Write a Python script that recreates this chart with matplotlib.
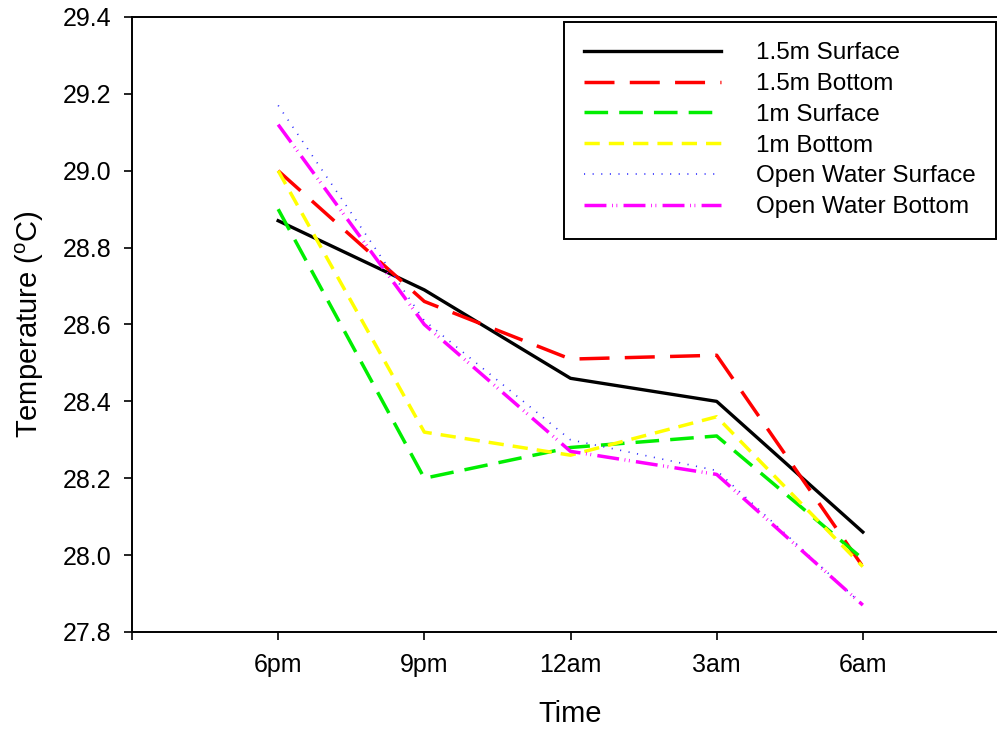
import matplotlib
matplotlib.use("Agg")
import matplotlib.pyplot as plt

plt.rcParams['font.family'] = ['Liberation Sans', 'DejaVu Sans']
plt.rcParams['mathtext.fontset'] = 'custom'
plt.rcParams['mathtext.rm'] = 'Liberation Sans'
plt.rcParams['mathtext.it'] = 'Liberation Sans'
plt.rcParams['lines.scale_dashes'] = False

times = ['6pm', '9pm', '12am', '3am', '6am']
series_names = ['1.5m Surface', '1.5m Bottom', '1m Surface', '1m Bottom',
                'Open Water Surface', 'Open Water Bottom']
s15_surface = [28.87, 28.69, 28.46, 28.40, 28.06]
s15_bottom = [29.00, 28.66, 28.51, 28.52, 27.97]
s1_surface = [28.90, 28.20, 28.28, 28.31, 27.99]
s1_bottom = [29.00, 28.32, 28.26, 28.36, 27.97]
ow_surface = [29.17, 28.61, 28.30, 28.22, 27.87]
ow_bottom = [29.12, 28.60, 28.27, 28.21, 27.87]

data = [s15_surface, s15_bottom, s1_surface, s1_bottom, ow_surface, ow_bottom]
colors = ['#000000', '#FF0000', '#00EE00', '#FFFF00', '#3030FF', '#FF00FF']
styles = [
    dict(linestyle='-', lw=2.4),
    dict(dashes=(21.6, 11.0), lw=2.5),
    dict(dashes=(17.0, 8.0), lw=2.5),
    dict(dashes=(11.0, 6.5), lw=2.5),
    dict(dashes=(0.8, 5.4), lw=1.2),
    dict(dashes=(15.8, 4.0, 0.6, 2.6, 0.6, 4.5), lw=2.5),
]

fig = plt.figure(figsize=(9.97, 7.31), dpi=100)
ax = fig.add_axes([132/997, 1-632/731, (1009-132)/997, (632-17)/731])

x = list(range(len(times)))
for vals, name, c, st in zip(data, series_names, colors, styles):
    ax.plot(x, vals, color=c, label=name, **st)

ax.set_xlim(-1, 5)
ax.set_ylim(27.8, 29.4)
ax.set_xticks(range(-1, 6))
ax.set_xticklabels([''] + times + [''])
ax.set_yticks([27.8, 28.0, 28.2, 28.4, 28.6, 28.8, 29.0, 29.2, 29.4])
ax.set_yticklabels(['27.8', '28.0', '28.2', '28.4', '28.6', '28.8', '29.0', '29.2', '29.4'])
ax.tick_params(direction='out', length=6, width=1.2, labelsize=18, pad=9)
for sp in ax.spines.values():
    sp.set_linewidth(1.4)

ax.set_xlabel('Time', fontsize=21, labelpad=17)
ax.set_ylabel(r'Temperature ($^\mathrm{o}$C)', fontsize=21, labelpad=12)

leg = fig.legend(loc='upper right', bbox_to_anchor=(996/997, 1-21.7/731),
                 fontsize=17.5, handlelength=5.6, handletextpad=1.44,
                 labelspacing=0.36, borderpad=0.85, borderaxespad=0,
                 fancybox=False, framealpha=1, edgecolor='black')
leg.get_frame().set_linewidth(1.4)

fig.savefig('out.png', dpi=100)
